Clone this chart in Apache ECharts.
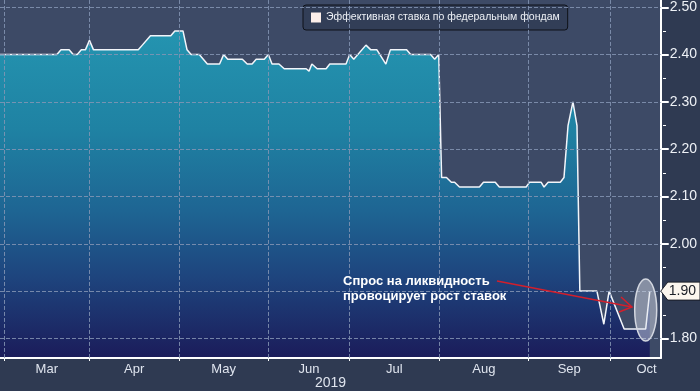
<!DOCTYPE html>
<html>
<head>
<meta charset="utf-8">
<script src="https://cdn.jsdelivr.net/npm/echarts@6/dist/echarts.min.js"></script>
<style>
  html, body { margin: 0; padding: 0; background: #2f3a52; }
  #chart { width: 700px; height: 391px; }
</style>
</head>
<body>
<div id="chart"></div>
<script>
// x = business-day index (0 = 1 Mar 2019), y = effective fed funds rate, %
const dayIdx = [
  -1, 13, 14, 16, 17, 18, 19, 20, 21, 22, 33, 34, 36, 41, 42, 44, 45, 46, 48, 50,
  53, 54, 55, 58.6, 59.8, 61, 62, 64, 65, 65.9, 67.6, 68.9, 74.3, 75, 75.7, 77,
  79.2, 80.1, 84.1, 85, 86, 89, 90.2, 91.7, 93.9, 95, 99, 100, 104.9, 105.9,
  106.9, 107.6, 108.8, 110, 110.8, 112, 116.9, 117.9, 120.8, 121.8, 128.4, 129.2,
  132.1, 132.8, 133.8, 136.8, 137.7, 138.7, 139.9, 140.9, 141.6, 145.8, 147.5,
  148.8, 152.5, 157.8, 158.8
];
const rate = [
  2.40, 2.40, 2.41, 2.41, 2.40, 2.40, 2.41, 2.41, 2.43, 2.41, 2.41, 2.42, 2.44, 2.44, 2.45, 2.45, 2.41, 2.40, 2.40, 2.38,
  2.38, 2.40, 2.39, 2.39, 2.38, 2.38, 2.39, 2.39, 2.40, 2.38, 2.38, 2.37, 2.37, 2.365, 2.38, 2.37,
  2.37, 2.38, 2.38, 2.40, 2.39, 2.42, 2.41, 2.41, 2.38, 2.41, 2.41, 2.40, 2.40, 2.39,
  2.40, 2.14, 2.14, 2.13, 2.13, 2.12, 2.12, 2.13, 2.13, 2.12, 2.12, 2.13,
  2.13, 2.12, 2.13, 2.13, 2.14, 2.25, 2.30, 2.25, 1.90, 1.90, 1.83,
  1.90, 1.82, 1.82, 1.90
];

const monthNames = ['Mar', 'Apr', 'May', 'Jun', 'Jul', 'Aug', 'Sep', 'Oct'];
const monthStartIdx = [0, 21, 43, 65, 85, 107, 129, 149];
const monthLabelIdx = [10.5, 32, 54, 75, 96, 118, 139, 158];
const yGridValues = [1.8, 1.9, 2.0, 2.1, 2.2, 2.3, 2.4, 2.5];
const yLabelValues = [1.8, 2.0, 2.1, 2.2, 2.3, 2.4, 2.5]; // 1.90 sits under the last-value tag
const yMinorValues = [1.85, 1.95, 2.05, 2.15, 2.25, 2.35, 2.45];
const lastValue = 1.90;
const seriesName = 'Эффективная ставка по федеральным фондам';

const font = 'Liberation Sans, Arial, sans-serif';
const yMin = 1.7586, yMax = 2.5154;
const xMin = -1, xMax = 161.5;

const chart = echarts.init(document.getElementById('chart'));

// dashed grid: horizontal at each 0.1, vertical at month starts
const gridLines = yGridValues.map(v => ({ yAxis: v }))
  .concat(monthStartIdx.map(v => [{ coord: [v, yMin + 0.0001] }, { coord: [v, yMax - 0.0001] }]));

const option = {
  backgroundColor: '#2f3a52',
  animation: false,
  grid: {
    left: 0, right: 37, top: 0, bottom: 33,
    show: true, backgroundColor: '#3d4a66', borderWidth: 0, z: 0
  },
  legend: {
    left: 303, top: 5,
    padding: [7, 8],
    backgroundColor: '#323e57',
    borderColor: '#0e1118', borderWidth: 1, borderRadius: 3,
    itemWidth: 10, itemHeight: 10, itemGap: 5,
    textStyle: { color: '#eef1f6', fontSize: 10.5, fontFamily: font },
    data: [{ name: seriesName, icon: 'rect', itemStyle: { color: '#fcefea', borderWidth: 0 } }]
  },
  xAxis: {
    type: 'value',
    min: xMin, max: xMax,
    z: 3,
    axisLine: { show: true, onZero: false, lineStyle: { color: '#ffffff', width: 2 } },
    axisTick: { show: true, length: 3, customValues: monthStartIdx, lineStyle: { color: '#ffffff', width: 1 } },
    splitLine: { show: false },
    axisLabel: {
      customValues: monthLabelIdx,
      color: '#dfe4ee', fontSize: 13, fontFamily: font, margin: 5,
      formatter: v => monthNames[monthLabelIdx.indexOf(v)] || ''
    }
  },
  yAxis: [
    {
      type: 'value',
      position: 'right',
      min: yMin, max: yMax,
      z: 3,
      axisLine: { show: true, onZero: false, lineStyle: { color: '#ffffff', width: 2 } },
      axisTick: { show: true, length: 8, customValues: yLabelValues, lineStyle: { color: '#ffffff', width: 2 } },
      splitLine: { show: false },
      axisLabel: {
        customValues: yLabelValues,
        color: '#eef1f6', fontSize: 14, fontFamily: font, margin: 9,
        formatter: v => v.toFixed(2)
      }
    },
    {
      // minor ticks only, moved onto the right-hand axis line
      type: 'value',
      position: 'left',
      offset: -663,
      min: yMin, max: yMax,
      z: 3,
      axisLine: { show: false, onZero: false },
      axisTick: { show: true, inside: true, length: 3, customValues: yMinorValues, lineStyle: { color: '#ffffff', width: 1 } },
      splitLine: { show: false },
      axisLabel: { show: false }
    }
  ],
  series: [
    {
      name: seriesName,
      type: 'line',
      z: 1,
      symbol: 'none',
      data: dayIdx.map((d, i) => [d, rate[i]]),
      lineStyle: { color: '#f2f5fa', width: 1.5 },
      areaStyle: {
        origin: 'start',
        opacity: 1,
        color: new echarts.graphic.LinearGradient(0, 0, 0, 1, [
          { offset: 0, color: '#2494b0' },
          { offset: 0.3, color: '#1f82a3' },
          { offset: 0.55, color: '#1e6593' },
          { offset: 0.75, color: '#1e457e' },
          { offset: 1, color: '#1b1c5a' }
        ])
      },
      markLine: {
        silent: true,
        animation: false,
        symbol: ['none', 'none'],
        label: { show: false },
        lineStyle: { color: '#8595b4', type: 'dashed', width: 1, opacity: 0.85 },
        data: gridLines
      }
    }
  ]
};

chart.setOption(option);

// annotations, placed from data coordinates
const tagPt = chart.convertToPixel({ gridIndex: 0 }, [xMax, lastValue]);
const ringPt = chart.convertToPixel({ gridIndex: 0 }, [157.8, 1.86]);
const tx = tagPt[0], ty = tagPt[1];

chart.setOption({
  graphic: [
    {
      type: 'text', left: 343, top: 274, z: 10,
      style: {
        text: 'Спрос на ликвидность\nпровоцирует рост ставок',
        fill: '#ffffff', font: 'bold 13px ' + font, lineHeight: 15
      }
    },
    {
      type: 'polyline', z: 10,
      shape: { points: [[497, 281], [632, 307]] },
      style: { stroke: '#d21f2c', lineWidth: 1.5, fill: null }
    },
    {
      type: 'polyline', z: 10,
      shape: { points: [[621, 297], [632, 307], [619, 312]] },
      style: { stroke: '#d21f2c', lineWidth: 1.5, fill: null }
    },
    {
      type: 'ellipse', z: 9,
      shape: { cx: ringPt[0], cy: ringPt[1], rx: 11, ry: 31 },
      style: { fill: 'rgba(225,228,238,0.45)', stroke: '#d3d7e0', lineWidth: 1.5 }
    },
    {
      type: 'polygon', z: 10,
      shape: { points: [[tx, ty], [tx + 7, ty - 9], [700, ty - 9], [700, ty + 9], [tx + 7, ty + 9]] },
      style: { fill: '#fcf6ee', stroke: '#1a1d26', lineWidth: 1 }
    },
    {
      type: 'text', z: 11, x: tx + 8, y: ty,
      style: { text: lastValue.toFixed(2), fill: '#1b1e26', font: '14px ' + font, verticalAlign: 'middle' }
    },
    {
      type: 'text', left: 315, top: 376, z: 10,
      style: { text: '2019', fill: '#dfe4ee', font: '14px ' + font }
    }
  ]
});
</script>
</body>
</html>
